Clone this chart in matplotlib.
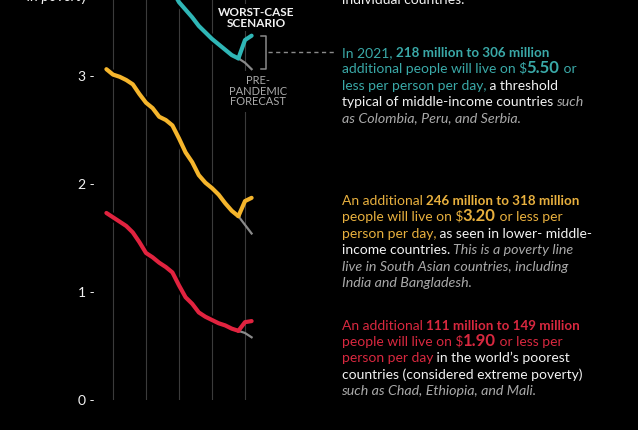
import matplotlib
matplotlib.use("Agg")
import matplotlib.pyplot as plt
import matplotlib.patheffects as pe

# data (billions of people in poverty)
years = list(range(1999, 2020))
proj_years = [2019, 2020, 2021]

teal_hist = [4.40, 4.36, 4.32, 4.28, 4.22, 4.14, 4.06, 4.00, 3.93, 3.87, 3.79,
             3.68, 3.61, 3.54, 3.46, 3.40, 3.34, 3.29, 3.24, 3.19, 3.16]
teal_worst = [3.16, 3.33, 3.37]
teal_pre = [3.16, 3.12, 3.06]

yellow_hist = [3.06, 3.01, 2.99, 2.96, 2.92, 2.83, 2.75, 2.70, 2.62, 2.59, 2.54,
               2.42, 2.29, 2.20, 2.08, 2.01, 1.96, 1.90, 1.82, 1.75, 1.70]
yellow_worst = [1.70, 1.84, 1.87]
yellow_pre = [1.70, 1.62, 1.54]

red_hist = [1.73, 1.69, 1.65, 1.61, 1.55, 1.46, 1.36, 1.32, 1.27, 1.23, 1.18,
            1.06, 0.95, 0.89, 0.81, 0.77, 0.74, 0.71, 0.69, 0.66, 0.64]
red_worst = [0.64, 0.72, 0.73]
red_pre = [0.64, 0.62, 0.58]

y_ticks = [0, 1, 2, 3]
grid_years = [2000, 2005, 2010, 2015, 2020]

TEAL, YELLOW, RED = '#2fb6b6', '#f5b52c', '#e1233f'
TEAL_T, YELLOW_T, RED_T = '#3aa9a8', '#e8b03e', '#d8283f'
WHITE, GREY_T, GREY_L = '#f2f2f2', '#a9a9a9', '#8a8a8a'
FONT = 'Lato'

W, H = 638, 430
fig = plt.figure(figsize=(W / 100, H / 100), dpi=100, facecolor='black')
ax = fig.add_axes([99.8 / W, 30 / H, 161.7 / W, 400 / H])
ax.set_facecolor('black')
ax.set_xlim(1998, 2022.5)
ax.set_ylim(0, 3.70)

for s in ax.spines.values():
    s.set_visible(False)
ax.set_xticks(grid_years)
ax.set_xticklabels([])
ax.tick_params(axis='x', length=0)
ax.grid(axis='x', color='#3b3b3b', linewidth=0.8, zorder=0)
ax.set_yticks(y_ticks)
ax.set_yticklabels([f"{v} -" for v in y_ticks], fontsize=10, family=FONT, color=WHITE)
ax.tick_params(axis='y', length=0, pad=3.8)

stroke = [pe.Stroke(linewidth=6.0, foreground='black'), pe.Normal()]
for hist, worst, pre, col in [(teal_hist, teal_worst, teal_pre, TEAL),
                              (yellow_hist, yellow_worst, yellow_pre, YELLOW),
                              (red_hist, red_worst, red_pre, RED)]:
    ax.plot(years, hist, color=col, linewidth=3.0, zorder=3, solid_capstyle='round',
            solid_joinstyle='round', path_effects=stroke)
    ax.plot(proj_years, pre, color=GREY_L, linewidth=1.6, zorder=4, clip_on=False)
    ax.plot(proj_years, worst, color=col, linewidth=3.0, zorder=5, solid_capstyle='round',
            solid_joinstyle='round', clip_on=False)

# bracket between the two 2021 teal values, then dashed leader to the text
bx0, bx1 = 2022.45, 2023.2
ax.plot([bx0, bx1, bx1, bx0], [teal_pre[-1], teal_pre[-1], teal_worst[-1], teal_worst[-1]],
        color=GREY_L, linewidth=1.1, clip_on=False, zorder=6)
mid = (teal_pre[-1] + teal_worst[-1]) / 2
ax.plot([2023.45, 2033.6], [mid, mid], color=GREY_L, linewidth=1.0,
        linestyle=(0, (3, 2.5)), clip_on=False, zorder=6)

ax.text(256 / 6.6 - 113 / 6.6 + 2000, 3.70 - 17.5 / 108, "WORST-CASE\nSCENARIO", color=WHITE,
        fontsize=8.5, fontweight='bold', family=FONT, ha='center', va='center',
        linespacing=1.0, zorder=7,
        bbox=dict(facecolor='black', edgecolor='none', pad=1.5))
ax.text(258 / 6.6 - 113 / 6.6 + 2000, 3.70 - 91 / 108, "PRE-\nPANDEMIC\nFORECAST", color=GREY_T,
        fontsize=8.0, family=FONT, ha='center', va='center', linespacing=0.98,
        zorder=7, clip_on=False, bbox=dict(facecolor='black', edgecolor='none', pad=3))

# cut-off texts at the top
fig.text(27 / W, 1 - 1.5 / H, "in poverty", color=WHITE, fontsize=10.5, fontstyle='italic',
         family=FONT, va='baseline')

renderer = fig.canvas.get_renderer()


def run_width(s, **kw):
    t1 = fig.text(0, 0, "|" + s + "|", **kw)
    t2 = fig.text(0, 0, "||", **kw)
    w = t1.get_window_extent(renderer).width - t2.get_window_extent(renderer).width
    t1.remove()
    t2.remove()
    return w


def draw_runs(x, y_top, runs):
    for s, color, weight, style, size in runs:
        kw = dict(color=color, fontweight=weight, fontstyle=style, fontsize=size, family=FONT)
        fig.text(x / W, 1 - y_top / H, s, va='baseline', ha='left', **kw)
        x += run_width(s, **kw)


def para(x, y0, lines, step=16.4):
    for i, runs in enumerate(lines):
        draw_runs(x, y0 + i * step, runs)


FS, FS_B, FS_I, BIG = 10.0, 9.6, 10.25, 12


def r(s, c):
    return (s, c, 'normal', 'normal', FS)


def b(s, c, size=FS_B):
    return (s, c, 'bold', 'normal', size)


def it(s):
    return (s, GREY_T, 'normal', 'italic', FS_I)


X0 = 341.5
draw_runs(X0, 4, [r("individual countries.", WHITE)])

para(X0, 57, [
    [r("In 2021, ", TEAL_T), b("218 million to 306 million", TEAL_T)],
    [r("additional people will live on $", TEAL_T), b("5.50", TEAL_T, BIG), r(" or", TEAL_T)],
    [r("less per person per day,", TEAL_T), r(" a threshold", WHITE)],
    [r("typical of middle-income countries ", WHITE), it("such")],
    [it("as Colombia, Peru, and Serbia.")],
])

para(X0, 205, [
    [r("An additional ", YELLOW_T), b("246 million to 318 million", YELLOW_T)],
    [r("people will live on $", YELLOW_T), b("3.20", YELLOW_T, BIG), r(" or less per", YELLOW_T)],
    [r("person per day,", YELLOW_T), r(" as seen in lower- middle-", WHITE)],
    [r("income countries. ", WHITE), it("This is a poverty line")],
    [it("live in South Asian countries, including")],
    [it("India and Bangladesh.")],
])

para(X0, 329.5, [
    [r("An additional ", RED_T), b("111 million to 149 million", RED_T)],
    [r("people will live on $", RED_T), b("1.90", RED_T, BIG), r(" or less per", RED_T)],
    [r("person per day", RED_T), r(" in the world\u2019s poorest", WHITE)],
    [r("countries (considered extreme poverty)", WHITE)],
    [it("such as Chad, Ethiopia, and Mali.")],
])

fig.savefig("out.png", dpi=100, facecolor='black')
